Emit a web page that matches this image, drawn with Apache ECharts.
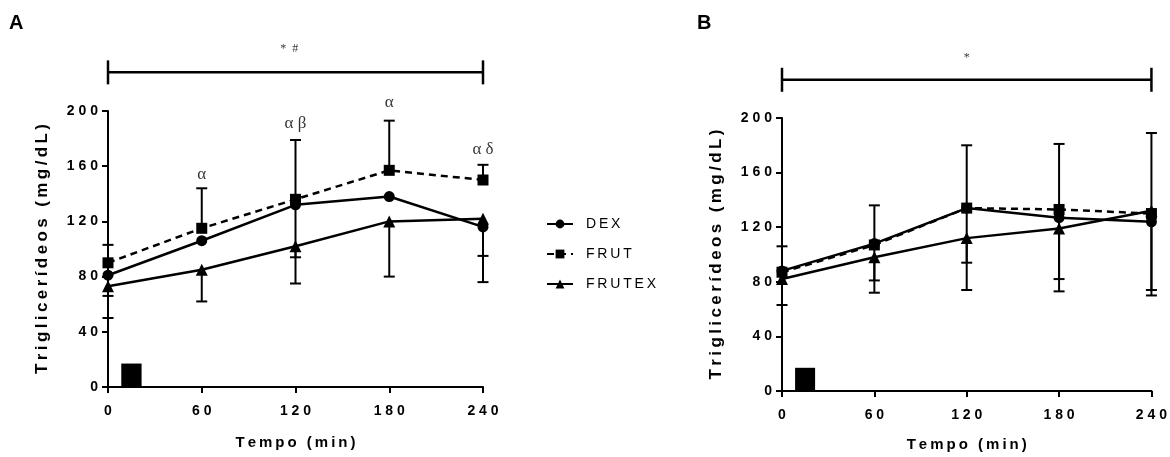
<!DOCTYPE html>
<html>
<head>
<meta charset="utf-8">
<script src="https://cdn.jsdelivr.net/npm/echarts@6/dist/echarts.min.js"></script>
<style>
html, body { margin: 0; background: #fff; }
#chart { width: 1170px; height: 457px; }
</style>
</head>
<body>
<div id="chart"></div>
<script>
// tempos (min) e médias
var times = [0, 60, 120, 180, 240];
var names = ['DEX', 'FRUT', 'FRUTEX'];

var dexA = [81, 106, 132, 138, 116];
var frutA = [90, 115, 136, 157, 150];
var frutexA = [73, 85, 102, 120, 122];

var dexB = [88, 108, 134, 127, 124];
var frutB = [87, 107, 134, 133, 130];
var frutexB = [82, 98, 112, 119, 132];

// barras de erro: [tempo, início, fim (cap)]
var errA = [
    [0, 90, 103], [0, 81, 66], [0, 73, 50],
    [60, 115, 144], [60, 85, 62],
    [120, 136, 179], [120, 132, 94], [120, 102, 75],
    [180, 157, 193], [180, 120, 80],
    [240, 150, 161], [240, 116, 95], [240, 122, 76]
];
var errB = [
    [0, 88, 106], [0, 82, 63],
    [60, 107, 136], [60, 107, 81], [60, 98, 72],
    [120, 134, 180], [120, 134, 94], [120, 112, 74],
    [180, 133, 181], [180, 127, 82], [180, 119, 73],
    [240, 132, 189], [240, 124, 74], [240, 130, 70]
];

// anotações: [tempo, y, texto]
var annA = [[60, 154, 'α'], [120, 191, 'α β'], [180, 206, 'α'], [240, 172, 'α δ']];
var starA = [[116, 245, '*  #']];
var starB = [[120, 244, '*']];

// barra de significância [de, até, y]
var bracketA = [[0, 240, 228]];
var bracketB = [[0, 240, 228]];

// bloco preto (ingestão) [x0, x1, altura]
var blockA = [[8.5, 21.5, 17]];
var blockB = [[8.5, 21.5, 17]];

function spaced(s) {
    return String(s).split('').join('\u2009');
}
function wide(s) {
    return String(s).split('').join(' ');
}

function pairs(vals) {
    return vals.map(function (v, i) { return [times[i], v]; });
}

function renderErr(params, api) {
    var x = api.value(0);
    var p0 = api.coord([x, api.value(1)]);
    var p1 = api.coord([x, api.value(2)]);
    var st = { stroke: '#000', lineWidth: 2 };
    return {
        type: 'group',
        children: [
            { type: 'line', shape: { x1: p0[0], y1: p0[1], x2: p1[0], y2: p1[1] }, style: st },
            { type: 'line', shape: { x1: p1[0] - 5.5, y1: p1[1], x2: p1[0] + 5.5, y2: p1[1] }, style: st }
        ]
    };
}

function renderBracket(params, api) {
    var a = api.coord([api.value(0), api.value(2)]);
    var b = api.coord([api.value(1), api.value(2)]);
    var st = { stroke: '#000', lineWidth: 2.5 };
    return {
        type: 'group',
        children: [
            { type: 'line', shape: { x1: a[0], y1: a[1], x2: b[0], y2: b[1] }, style: st },
            { type: 'line', shape: { x1: a[0], y1: a[1] - 12, x2: a[0], y2: a[1] + 12 }, style: st },
            { type: 'line', shape: { x1: b[0], y1: b[1] - 12, x2: b[0], y2: b[1] + 12 }, style: st }
        ]
    };
}

function renderBlock(params, api) {
    var a = api.coord([api.value(0), api.value(2)]);
    var b = api.coord([api.value(1), 0]);
    return {
        type: 'rect',
        shape: { x: a[0], y: a[1], width: b[0] - a[0], height: b[1] - a[1] },
        style: { fill: '#000' }
    };
}

var tickFont = { color: '#000', fontFamily: 'Liberation Sans, Arial', fontWeight: 'bold', fontSize: 14 };

function xAxisFor(idx, gap) {
    return {
        gridIndex: idx, type: 'value', min: 0, max: 240, interval: 60,
        name: spaced('Tempo (min)'), nameLocation: 'middle', nameGap: gap,
        nameTextStyle: { color: '#000', fontFamily: 'Liberation Sans, Arial', fontWeight: 'bold', fontSize: 15 },
        axisLine: { lineStyle: { color: '#000', width: 2 } },
        axisTick: { show: true, length: 6, lineStyle: { color: '#000', width: 2 } },
        axisLabel: Object.assign({ margin: 17, formatter: wide }, tickFont),
        splitLine: { show: false }
    };
}

function yAxisFor(idx) {
    return {
        gridIndex: idx, type: 'value', min: 0, max: 200, interval: 40,
        name: spaced('Triglicerídeos (mg/dL)'), nameLocation: 'middle', nameGap: 57,
        nameTextStyle: { color: '#000', fontFamily: 'Liberation Sans, Arial', fontWeight: 'bold', fontSize: 17 },
        axisLine: { show: true, lineStyle: { color: '#000', width: 2 } },
        axisTick: { show: true, length: 6, lineStyle: { color: '#000', width: 2 } },
        axisLabel: Object.assign({ margin: 10, formatter: wide }, tickFont),
        splitLine: { show: false }
    };
}

function lineSeries(name, data, idx, symbol, size, dashed) {
    return {
        name: name, type: 'line', xAxisIndex: idx, yAxisIndex: idx,
        data: pairs(data), symbol: symbol, symbolSize: size, z: 3,
        itemStyle: { color: '#000' },
        lineStyle: { color: '#000', width: 2.5, type: dashed ? [7, 5] : 'solid' }
    };
}

function annSeries(idx, data, size) {
    return {
        type: 'scatter', xAxisIndex: idx, yAxisIndex: idx, data: data,
        symbolSize: 0, clip: false, silent: true,
        label: {
            show: true, position: 'inside', color: '#000',
            fontFamily: 'Liberation Serif, Times New Roman, serif', fontSize: size,
            formatter: function (p) { return p.data[2]; }
        }
    };
}

function panelSeries(idx, d, f, fx, err, bracket, block, ann, star) {
    var s = [
        lineSeries('DEX', d, idx, 'circle', 11, false),
        lineSeries('FRUT', f, idx, 'rect', 11, true),
        lineSeries('FRUTEX', fx, idx, 'triangle', 12, false),
        { type: 'custom', xAxisIndex: idx, yAxisIndex: idx, data: err, renderItem: renderErr,
          encode: { x: 0, y: [1, 2] }, z: 2, silent: true },
        { type: 'custom', xAxisIndex: idx, yAxisIndex: idx, data: bracket, renderItem: renderBracket,
          encode: { x: [0, 1], y: 2 }, clip: false, silent: true },
        { type: 'custom', xAxisIndex: idx, yAxisIndex: idx, data: block, renderItem: renderBlock,
          encode: { x: [0, 1], y: 2 }, silent: true },
        annSeries(idx, star, 12)
    ];
    if (ann) s.push(annSeries(idx, ann, 17));
    return s;
}

var chart = echarts.init(document.getElementById('chart'));
var option = {
    animation: false,
    backgroundColor: '#fff',
    grid: [
        { left: 108, right: 687, top: 111, bottom: 70 },
        { left: 782, right: 14, top: 118, bottom: 63 }
    ],
    xAxis: [xAxisFor(0, 48), xAxisFor(1, 46)],
    yAxis: [yAxisFor(0), yAxisFor(1)],
    legend: {
        data: names, orient: 'vertical', left: 541, top: 212,
        itemWidth: 26, itemHeight: 11, itemGap: 16,
        textStyle: { color: '#000', fontFamily: 'Liberation Sans, Arial', fontSize: 14, padding: [0, 0, 0, 8] },
        formatter: spaced
    },
    graphic: [
        { type: 'text', left: 9, top: 13, style: { text: 'A', font: 'bold 20px Liberation Sans, Arial', fill: '#000' } },
        { type: 'text', left: 697, top: 13, style: { text: 'B', font: 'bold 20px Liberation Sans, Arial', fill: '#000' } }
    ],
    series: [].concat(
        panelSeries(0, dexA, frutA, frutexA, errA, bracketA, blockA, annA, starA),
        panelSeries(1, dexB, frutB, frutexB, errB, bracketB, blockB, null, starB)
    )
};
chart.setOption(option);
</script>
</body>
</html>
